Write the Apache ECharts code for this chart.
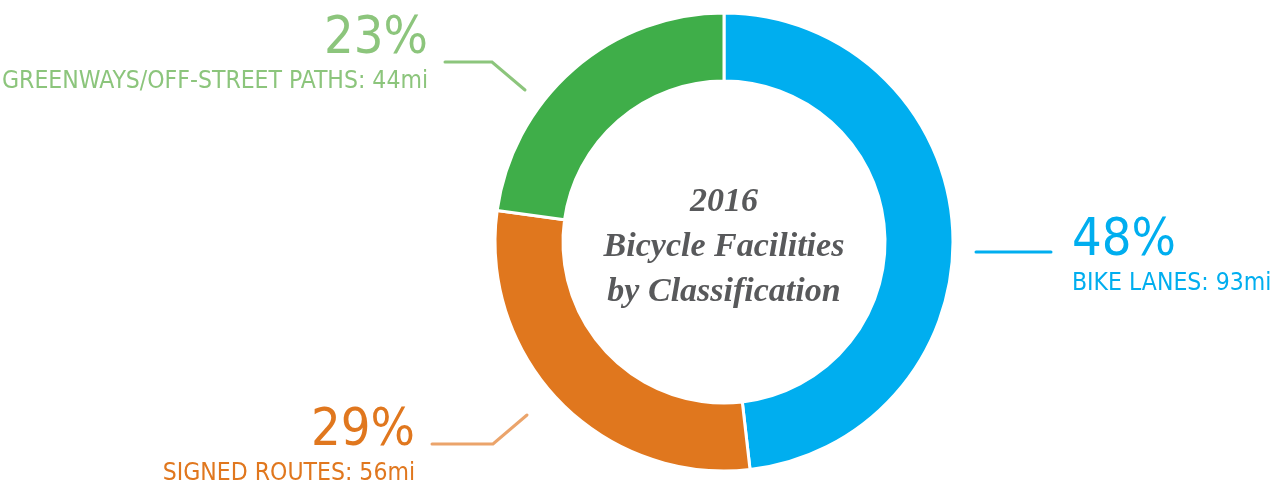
<!DOCTYPE html>
<html>
<head>
<meta charset="utf-8">
<script src="https://cdn.jsdelivr.net/npm/echarts@6/dist/echarts.min.js"></script>
<style>
    html, body { margin: 0; padding: 0; background: #fff; }
    #chart { width: 1280px; height: 489px; }
</style>
</head>
<body>
<div id="chart"></div>
<script>
    // data
    const categories = ['BIKE LANES', 'SIGNED ROUTES', 'GREENWAYS/OFF-STREET PATHS'];
    const miles = [93, 56, 44];
    const centerTitle = ['2016', 'Bicycle Facilities', 'by Classification'];

    // styles
    const sliceColors = ['#00AEEF', '#E0771E', '#3FAE49'];
    const textColors = ['#00AEEF', '#E0771E', '#8CC57C'];
    const lineColors = ['#00AEEF', '#EBA46B', '#8CC57C'];
    // where each label goes (x, top, align) and its leader line
    const labelPos = [
        { x: 1072, y: 213, align: 'left', line: [[976, 252], [1014, 252], [1051, 252]] },
        { x: 415, y: 403, align: 'right', line: [[527, 415], [493, 444], [432, 444]] },
        { x: 428, y: 11, align: 'right', line: [[525, 90], [492, 62], [445, 62]] }
    ];

    const condensed = '"DejaVu Sans Condensed", "Liberation Sans Narrow", sans-serif';

    let myChart = echarts.init(document.getElementById('chart'));
    myChart.setOption({
        animation: false,
        backgroundColor: '#fff',
        graphic: [{
            type: 'text',
            x: 724,
            y: 247,
            style: {
                text: centerTitle.join('\n'),
                font: 'italic bold 34px "Liberation Serif", "DejaVu Serif", serif',
                fill: '#58595B',
                align: 'center',
                verticalAlign: 'middle',
                lineHeight: 45
            }
        }],
        series: [{
            type: 'pie',
            center: [724, 242],
            radius: [161, 229],
            startAngle: 90,
            clockwise: true,
            avoidLabelOverlap: false,
            itemStyle: {
                borderColor: '#fff',
                borderWidth: 3
            },
            label: {
                show: true,
                formatter: function (p) {
                    return '{p|' + Math.round(p.percent) + '%}\n{n|' + p.name + ': ' + p.value + 'mi}';
                },
                rich: {
                    p: { fontFamily: condensed, fontSize: 52, lineHeight: 56 },
                    n: { fontFamily: condensed, fontSize: 24.5, lineHeight: 30 }
                }
            },
            labelLine: {
                show: true,
                lineStyle: { width: 3, cap: 'round' }
            },
            labelLayout: function (params) {
                const pos = labelPos[params.dataIndex];
                return {
                    x: pos.x,
                    y: pos.y,
                    align: pos.align,
                    verticalAlign: 'top',
                    labelLinePoints: pos.line
                };
            },
            data: categories.map(function (name, i) {
                return {
                    name: name,
                    value: miles[i],
                    itemStyle: { color: sliceColors[i] },
                    label: {
                        color: textColors[i],
                        rich: {
                            p: { color: textColors[i] },
                            n: { color: textColors[i] }
                        }
                    },
                    labelLine: { lineStyle: { color: lineColors[i] } }
                };
            })
        }]
    });
</script>
</body>
</html>
